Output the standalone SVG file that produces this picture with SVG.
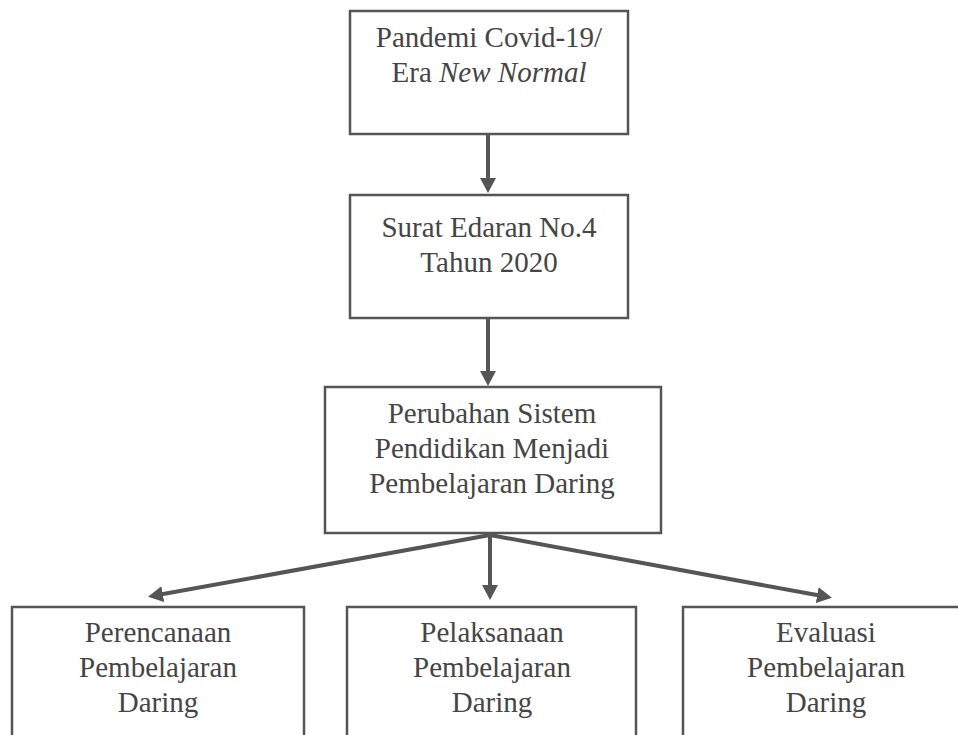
<svg xmlns="http://www.w3.org/2000/svg" width="958" height="735" viewBox="0 0 958 735">
<style>
.box{fill:#fff;stroke:#555;stroke-width:2.5}
.t{font-family:'Liberation Serif',Tinos,'Times New Roman',Times,'DejaVu Serif',serif;font-size:29px;fill:#454545;text-anchor:middle}
.c{stroke:#555;stroke-width:4;fill:none}
</style>
<defs>
<marker id="ah" markerUnits="userSpaceOnUse" markerWidth="16" markerHeight="16" viewBox="0 0 16 16" refX="1" refY="8" orient="auto">
<path d="M0,0 L15,8 L0,16 Z" fill="#555"/>
</marker>
</defs>
<rect width="958" height="735" fill="#fff"/>
<g id="connectors">
<line class="c" x1="488" y1="134" x2="488" y2="179" marker-end="url(#ah)"/>
<line class="c" x1="488" y1="319" x2="488" y2="372" marker-end="url(#ah)"/>
<line class="c" x1="490" y1="535" x2="490" y2="586" marker-end="url(#ah)"/>
<line class="c" x1="490" y1="535" x2="161.8" y2="594.3" marker-end="url(#ah)"/>
<line class="c" x1="490" y1="535" x2="818.2" y2="595.3" marker-end="url(#ah)"/>
</g>
<g id="n1">
<rect class="box" x="350" y="11" width="278" height="123"/>
<text class="t" x="489" y="47">Pandemi Covid-19/</text>
<text class="t" x="489" y="82">Era <tspan font-style="italic">New Normal</tspan></text>
</g>
<g id="n2">
<rect class="box" x="350" y="195" width="278" height="123"/>
<text class="t" x="489" y="237">Surat Edaran No.4</text>
<text class="t" x="489" y="272">Tahun 2020</text>
</g>
<g id="n3">
<rect class="box" x="325" y="387" width="336" height="146"/>
<text class="t" x="492" y="423">Perubahan Sistem</text>
<text class="t" x="492" y="458">Pendidikan Menjadi</text>
<text class="t" x="492" y="493">Pembelajaran Daring</text>
</g>
<g id="n4">
<rect class="box" x="12" y="607" width="292" height="160"/>
<text class="t" x="158" y="642">Perencanaan</text>
<text class="t" x="158" y="677">Pembelajaran</text>
<text class="t" x="158" y="712">Daring</text>
</g>
<g id="n5">
<rect class="box" x="347" y="607" width="289" height="160"/>
<text class="t" x="492" y="642">Pelaksanaan</text>
<text class="t" x="492" y="677">Pembelajaran</text>
<text class="t" x="492" y="712">Daring</text>
</g>
<g id="n6">
<rect class="box" x="683" y="607" width="286" height="160"/>
<text class="t" x="826" y="642">Evaluasi</text>
<text class="t" x="826" y="677">Pembelajaran</text>
<text class="t" x="826" y="712">Daring</text>
</g>
</svg>
